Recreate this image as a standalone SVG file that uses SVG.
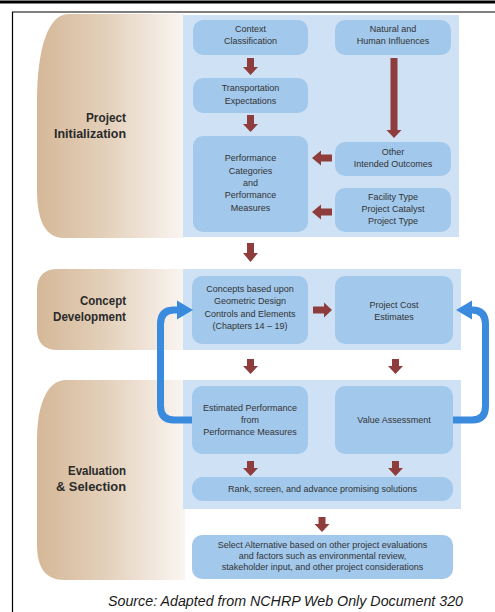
<svg xmlns="http://www.w3.org/2000/svg" width="495" height="612" viewBox="0 0 495 612">
<style>
.frame{stroke:#000;fill:none}
.tan{fill:url(#tanGrad)}
.panel{fill:#cfe2f5}
.box{fill:#a2c8ec}
.t{font-family:"Liberation Sans",Arial,sans-serif;font-size:9px;fill:#333;text-anchor:middle}
.title{font-family:"Liberation Sans",Arial,sans-serif;font-size:13.5px;font-weight:bold;fill:#2a2a2a;text-anchor:end}
.src{font-family:"Liberation Sans",Arial,sans-serif;font-size:15px;font-style:italic;fill:#1a1a1a}
.red{fill:#8f3c3c}
.blue{fill:none;stroke:#3a8ade;stroke-width:7}
.bluehead{fill:#3a8ade}
</style>
<defs>
<linearGradient id="tanGrad" gradientUnits="userSpaceOnUse" x1="37" y1="0" x2="185" y2="0">
<stop offset="0" stop-color="#d5b898"/>
<stop offset="0.45" stop-color="#e3cfb9"/>
<stop offset="0.85" stop-color="#f4ebe3"/>
<stop offset="1" stop-color="#faf5f1"/>
</linearGradient>
</defs>
<rect width="495" height="612" fill="#fff"/>
<g id="frame">
<line class="frame" x1="0" y1="2" x2="495" y2="2" stroke-width="3"/>
<line class="frame" x1="12" y1="12" x2="495" y2="12" stroke-width="1.2"/>
<line class="frame" x1="12.5" y1="12" x2="12.5" y2="612" stroke-width="1.2"/>
</g>
<g id="stages">
<g id="stage-init">
<path class="tan" d="M185,14 H68 C48,14 37,50 37,100 V190 C37,222 46,238 64,238 H185 Z"/>
<text class="title" x="126" y="121.5" textLength="40" lengthAdjust="spacingAndGlyphs">Project</text>
<text class="title" x="126" y="138" textLength="72" lengthAdjust="spacingAndGlyphs">Initialization</text>
</g>
<g id="stage-concept">
<path class="tan" d="M185,269 H58 Q37,269 37,290 V329 Q37,350 58,350 H185 Z"/>
<text class="title" x="126" y="305" textLength="46" lengthAdjust="spacingAndGlyphs">Concept</text>
<text class="title" x="126" y="321" textLength="73" lengthAdjust="spacingAndGlyphs">Development</text>
</g>
<g id="stage-eval">
<path class="tan" d="M185,380 H66 C47,380 37,405 37,440 V545 C37,568 46,580 64,580 H185 Z"/>
<text class="title" x="126" y="475" textLength="58" lengthAdjust="spacingAndGlyphs">Evaluation</text>
<text class="title" x="126" y="491" textLength="70" lengthAdjust="spacingAndGlyphs">&amp; Selection</text>
</g>
</g>
<g id="panels">
<rect class="panel" x="183" y="15" width="276" height="222"/>
<rect class="panel" x="183" y="269" width="278" height="81"/>
<rect class="panel" x="183" y="380" width="278" height="129"/>
</g>
<g id="n-context">
<rect class="box" x="193" y="20" width="115" height="35" rx="10"/>
<text class="t" x="250.5" y="32">Context</text>
<text class="t" x="250.5" y="44">Classification</text>
</g>
<g id="n-natural">
<rect class="box" x="335" y="20" width="116" height="35" rx="10"/>
<text class="t" x="393" y="32">Natural and</text>
<text class="t" x="393" y="44">Human Influences</text>
</g>
<g id="n-transport">
<rect class="box" x="193" y="78" width="115" height="35" rx="10"/>
<text class="t" x="250.5" y="91">Transportation</text>
<text class="t" x="250.5" y="104">Expectations</text>
</g>
<g id="n-performance">
<rect class="box" x="193" y="136" width="115" height="96" rx="10"/>
<text class="t" x="250.5" y="161">Performance</text>
<text class="t" x="250.5" y="173.5">Categories</text>
<text class="t" x="250.5" y="186">and</text>
<text class="t" x="250.5" y="198">Performance</text>
<text class="t" x="250.5" y="210.5">Measures</text>
</g>
<g id="n-other">
<rect class="box" x="335" y="142" width="116" height="34" rx="10"/>
<text class="t" x="393" y="155">Other</text>
<text class="t" x="393" y="167">Intended Outcomes</text>
</g>
<g id="n-facility">
<rect class="box" x="335" y="188" width="116" height="44" rx="10"/>
<text class="t" x="393" y="200">Facility Type</text>
<text class="t" x="393" y="212">Project Catalyst</text>
<text class="t" x="393" y="224">Project Type</text>
</g>
<g id="n-concepts">
<rect class="box" x="192" y="276" width="116" height="68" rx="10"/>
<text class="t" x="250" y="292">Concepts based upon</text>
<text class="t" x="250" y="304">Geometric Design</text>
<text class="t" x="250" y="317">Controls and Elements</text>
<text class="t" x="250" y="329">(Chapters 14 – 19)</text>
</g>
<g id="n-cost">
<rect class="box" x="335" y="276" width="118" height="68" rx="10"/>
<text class="t" x="394" y="308">Project Cost</text>
<text class="t" x="394" y="320">Estimates</text>
</g>
<g id="n-estimated">
<rect class="box" x="192" y="386" width="116" height="68" rx="10"/>
<text class="t" x="250" y="411">Estimated Performance</text>
<text class="t" x="250" y="423">from</text>
<text class="t" x="250" y="434.5">Performance Measures</text>
</g>
<g id="n-value">
<rect class="box" x="335" y="386" width="118" height="68" rx="10"/>
<text class="t" x="394" y="423">Value Assessment</text>
</g>
<g id="n-rank">
<rect class="box" x="192" y="477" width="261" height="24" rx="11"/>
<text class="t" x="322.5" y="492">Rank, screen, and advance promising solutions</text>
</g>
<g id="n-select">
<rect class="box" x="192" y="535" width="261" height="44" rx="10"/>
<text class="t" x="322.5" y="547.5">Select Alternative based on other project evaluations</text>
<text class="t" x="322.5" y="558.5">and factors such as environmental review,</text>
<text class="t" x="322.5" y="570">stakeholder input, and other project considerations</text>
</g>
<g id="connectors">
<polygon class="red" points="247,58 254,58 254,67 258,67 250.5,75 243,67 247,67"/>
<polygon class="red" points="247,115 254,115 254,124 258,124 250.5,132 243,124 247,124"/>
<polygon class="red" points="390.5,58 397.5,58 397.5,130 401.5,130 394,138 386.5,130 390.5,130"/>
<polygon class="red" points="332,154.5 332,161.5 321,161.5 321,165.5 312,158 321,150.5 321,154.5"/>
<polygon class="red" points="332,208.5 332,215.5 321,215.5 321,219.5 312,212 321,204.5 321,208.5"/>
<polygon class="red" points="247,243 254,243 254,253 258,253 250.5,262 243,253 247,253"/>
<polygon class="red" points="313,306.5 313,313.5 324,313.5 324,317.5 332,310 324,302.5 324,306.5"/>
<polygon class="red" points="247,359 254,359 254,366 258,366 250.5,374 243,366 247,366"/>
<polygon class="red" points="392,359 399,359 399,366 403,366 395.5,374 388,366 392,366"/>
<polygon class="red" points="247,461 254,461 254,468 258,468 250.5,476 243,468 247,468"/>
<polygon class="red" points="392,461 399,461 399,468 403,468 395.5,476 388,468 392,468"/>
<polygon class="red" points="318.5,517 325.5,517 325.5,524 329.5,524 322,532 314.5,524 318.5,524"/>
<path class="blue" d="M192,420 H174 Q160.5,420 160.5,406 V324 Q160.5,310 174,310 H180"/>
<polygon class="bluehead" points="193,310 177,300.5 177,319.5"/>
<path class="blue" d="M453,420 H472 Q485.5,420 485.5,406 V324 Q485.5,310 472,310 H470"/>
<polygon class="bluehead" points="456,310 472,300.5 472,319.5"/>
</g>
<text class="src" x="108" y="606" textLength="355" lengthAdjust="spacingAndGlyphs">Source: Adapted from NCHRP Web Only Document 320</text>
</svg>
